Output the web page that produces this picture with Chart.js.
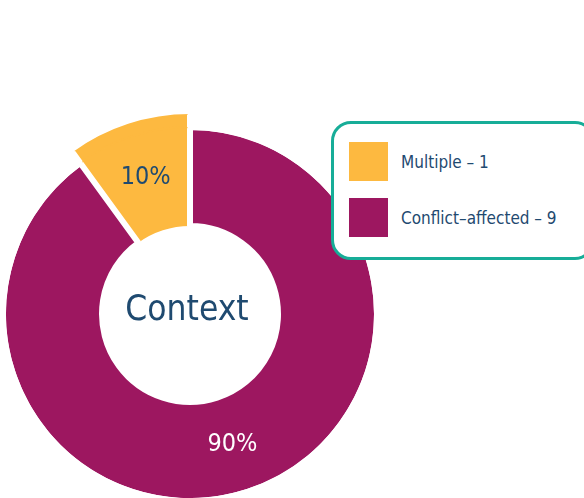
<!DOCTYPE html>
<html lang="en">
  <head>
    <meta charset="UTF-8" />
    <title>Context</title>
    <script src="https://cdn.jsdelivr.net/npm/chart.js"></script>
    <style>
      body { margin: 0; background: #fff; }
      #wrap { position: relative; width: 584px; height: 498px; overflow: hidden; }
      #legend {
        position: absolute; left: 331px; top: 121px; width: 264px; height: 139px;
        box-sizing: border-box; border: 3px solid #17ad98; border-radius: 20px;
        padding: 18px 0 0 15px; background: #fff;
        font-family: "Liberation Sans Narrow", "DejaVu Sans Condensed", Roboto, sans-serif;
        font-size: 17px; color: #1f4a70;
      }
      .item { display: flex; align-items: center; height: 39px; margin-bottom: 17px; }
      .swatch { width: 39px; height: 39px; margin-right: 13px; flex: none; }
    </style>
  </head>
  <body>
    <div id="wrap">
      <canvas id="contextChart" width="584" height="498"></canvas>
      <div id="legend"></div>
    </div>
    <script>
      const categories = ["Multiple", "Conflict–affected"];
      const counts = [1, 9];
      const colours = ["#fdb940", "#9d1760"];
      const labelColours = ["#1f4a70", "#ffffff"];
      const centreLabel = "Context";
      const labelFont = "'Liberation Sans Narrow', 'DejaVu Sans Condensed', Roboto, sans-serif";

      // legend
      const legend = document.getElementById("legend");
      categories.forEach((name, i) => {
        const item = document.createElement("div");
        item.className = "item";
        item.innerHTML = '<span class="swatch" style="background:' + colours[i] + '"></span>' +
          '<span>' + name + " – " + counts[i] + "</span>";
        legend.appendChild(item);
      });

      // percentages and centre text
      const sliceLabels = {
        id: "sliceLabels",
        afterDatasetsDraw(chart) {
          const ctx = chart.ctx;
          const meta = chart.getDatasetMeta(1);
          const outer = chart.getDatasetMeta(0);
          const total = counts.reduce((a, b) => a + b, 0);
          ctx.save();
          ctx.textAlign = "center";
          ctx.textBaseline = "middle";
          meta.data.forEach((arc, i) => {
            let p = arc.tooltipPosition();
            if (i === 0) {
              // exploded slice: centre the label on the whole visible wedge
              const a = (arc.startAngle + arc.endAngle) / 2;
              const r = (arc.innerRadius + outer.data[0].outerRadius) / 2;
              p = { x: arc.x + Math.cos(a) * r, y: arc.y + Math.sin(a) * r };
            }
            ctx.font = "25px " + labelFont;
            ctx.fillStyle = labelColours[i];
            ctx.fillText(Math.round((counts[i] / total) * 100) + "%", p.x, p.y);
          });
          const c = meta.data[0];
          ctx.font = "35px " + labelFont;
          ctx.fillStyle = "#1f4a70";
          ctx.fillText(centreLabel, c.x - 3, c.y - 3);
          ctx.restore();
        },
      };

      const ctx = document.getElementById("contextChart").getContext("2d");
      new Chart(ctx, {
        type: "doughnut",
        data: {
          labels: categories,
          datasets: [
            {
              // thin outer ring: only the "Multiple" slice sticks out
              data: counts,
              backgroundColor: [colours[0], "rgba(0,0,0,0)"],
              borderColor: [colours[0], "#ffffff"],
              borderWidth: [2, 6],
              weight: 12,
              clip: false,
            },
            {
              data: counts,
              backgroundColor: colours,
              borderColor: [colours[0], "#ffffff"],
              borderWidth: [0, 6],
              weight: 99,
              clip: false,
            },
          ],
        },
        options: {
          responsive: false,
          animation: false,
          events: [],
          rotation: -36,
          radius: 199,
          cutout: "44.22%",
          layout: { padding: { left: 0, right: 204, top: 130, bottom: 0 } },
          plugins: {
            legend: { display: false },
            tooltip: { enabled: false },
          },
        },
        plugins: [sliceLabels],
      });
    </script>
  </body>
</html>
